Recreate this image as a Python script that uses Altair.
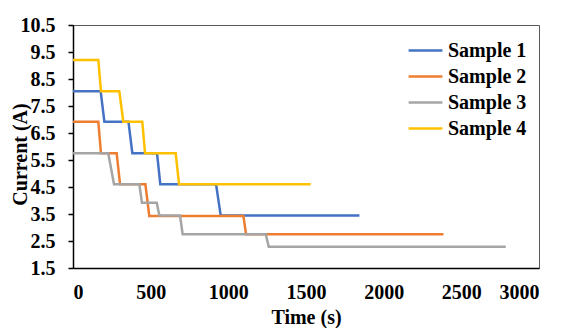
import altair as alt
import pandas as pd

samples = ["Sample 1", "Sample 2", "Sample 3", "Sample 4"]
colors = ["#4472C4", "#ED7D31", "#A5A5A5", "#FFC000"]

s1_t = [0, 178, 202, 357, 382, 541, 562, 921, 951, 1844]
s1_i = [8.05, 8.05, 6.92, 6.92, 5.75, 5.75, 4.6, 4.6, 3.44, 3.44]

s2_t = [0, 163, 180, 281, 303, 466, 491, 1097, 1114, 2385]
s2_i = [6.92, 6.92, 5.75, 5.75, 4.6, 4.6, 3.43, 3.43, 2.75, 2.75]

s3_t = [0, 227, 264, 427, 444, 539, 556, 689, 706, 1241, 1260, 2786]
s3_i = [5.75, 5.75, 4.6, 4.6, 3.92, 3.92, 3.44, 3.44, 2.75, 2.75, 2.29, 2.29]

s4_t = [0, 163, 180, 298, 324, 446, 464, 661, 683, 1530]
s4_i = [9.2, 9.2, 8.05, 8.05, 6.92, 6.92, 5.75, 5.75, 4.6, 4.6]

y_ticks = [1.5, 2.5, 3.5, 4.5, 5.5, 6.5, 7.5, 8.5, 9.5, 10.5]
x_ticks = [0, 500, 1000, 1500, 2000, 2500, 3000]

rows = []
for name, ts, cs in zip(samples, [s1_t, s2_t, s3_t, s4_t], [s1_i, s2_i, s3_i, s4_i]):
    for k, (t, c) in enumerate(zip(ts, cs)):
        rows.append({"sample": name, "time": t, "current": c, "order": k})
df = pd.DataFrame(rows)

FONT = "Liberation Serif"
FS = 20

chart = alt.Chart(df).mark_line(strokeWidth=2.5).encode(
    x=alt.X("time:Q", scale=alt.Scale(domain=[0, 3000], nice=False),
            axis=alt.Axis(values=x_ticks, format="d", title="Time (s)", ticks=False, grid=False,
                          labelPadding=14, titleX=233, titleY=49, titleBaseline="middle")),
    y=alt.Y("current:Q", scale=alt.Scale(domain=[1.5, 10.5], nice=False, zero=False),
            axis=alt.Axis(values=y_ticks, format=".1f", title="Current (A)", grid=False,
                          tickSize=5, labelPadding=13, titleX=-53, titleY=129,
                          titleAngle=-90, titleAlign="center", titleBaseline="middle")),
    color=alt.Color("sample:N", scale=alt.Scale(domain=samples, range=colors),
                    legend=alt.Legend(title=None, orient="none", legendX=338, legendY=11,
                                      symbolType="M-1.3,0L1.3,0", symbolSize=676,
                                      symbolStrokeWidth=2.5, labelOffset=8,
                                      rowPadding=1, padding=0)),
    order="order:Q",
    detail="sample:N",
).properties(
    width=466, height=243,
    autosize=alt.AutoSizeParams(type="none"),
    padding={"left": 65, "top": 17, "right": 21, "bottom": 60},
).configure_view(
    stroke="#595959", strokeWidth=1
).configure_axis(
    labelFont=FONT, titleFont=FONT, labelFontSize=FS, titleFontSize=FS,
    labelFontWeight="bold", titleFontWeight="bold",
    labelColor="black", titleColor="black",
    domainColor="black", domainWidth=1.5, tickColor="black", tickWidth=1.5,
).configure_legend(
    labelFont=FONT, labelFontSize=FS, labelFontWeight="bold", labelColor="black",
)

chart.save("out.html", embed_options={"renderer": "svg", "actions": False})
